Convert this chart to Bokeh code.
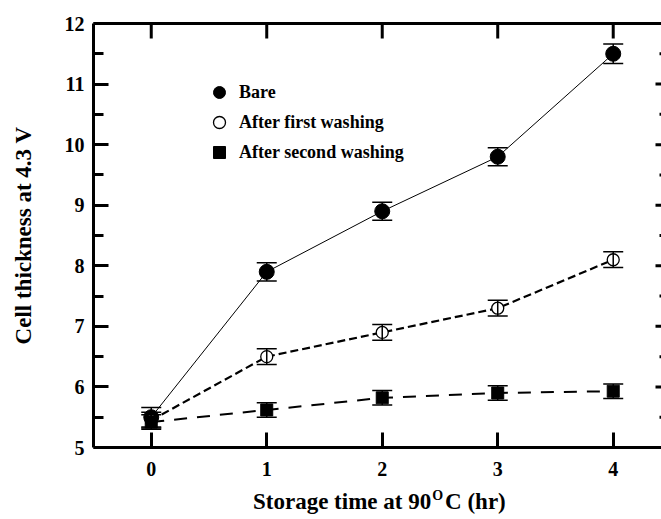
import math
from bokeh.plotting import figure
from bokeh.models import (ColumnDataSource, Whisker, TeeHead, LinearAxis, FixedTicker,
                          Range1d, Legend, LegendItem, Div)
from bokeh.layouts import column
from bokeh.embed import file_html
from bokeh.resources import INLINE

# ---- data ----
time_hr = [0, 1, 2, 3, 4]
bare = [5.5, 7.9, 8.9, 9.8, 11.5]
bare_err = [0.16, 0.15, 0.15, 0.15, 0.16]
first_wash = [5.45, 6.5, 6.9, 7.3, 8.1]
first_err = [0.13, 0.13, 0.13, 0.13, 0.13]
second_wash = [5.42, 5.62, 5.82, 5.9, 5.93]
second_err = [0.12, 0.12, 0.12, 0.12, 0.12]
x_ticks = [0, 1, 2, 3, 4]
y_ticks = [5, 6, 7, 8, 9, 10, 11, 12]
y_minor = [5.5, 6.5, 7.5, 8.5, 9.5, 10.5, 11.5]
series_names = ["Bare", "After first washing", "After second washing"]
y_title = "Cell thickness at 4.3 V"
x_title_parts = ["Storage time at 90", "O", "C (hr)"]

FONT = "Liberation Serif"
X_START, X_END = -0.5, 4.418
Y_START, Y_END = 5, 12

p = figure(width=661, height=487, x_range=Range1d(X_START, X_END), y_range=Range1d(Y_START, Y_END),
           min_border_left=93, min_border_right=0, min_border_top=23, min_border_bottom=40,
           outline_line_color=None, toolbar_location=None, output_backend="svg",
           background_fill_color="white", border_fill_color="white")
p.grid.visible = False

# bottom axis
xa = p.xaxis[0]
xa.ticker = FixedTicker(ticks=x_ticks)
# left axis
ya = p.yaxis[0]
ya.ticker = FixedTicker(ticks=y_ticks, minor_ticks=y_minor)
ya.axis_label = y_title
for ax in (xa, ya):
    ax.axis_line_width = 3
    ax.major_tick_line_width = 3
    ax.minor_tick_line_width = 3
    ax.major_tick_in = 15
    ax.major_tick_out = 0
    ax.minor_tick_in = 10
    ax.minor_tick_out = 0
    ax.major_label_text_font = FONT
    ax.major_label_text_font_style = "bold"
    ax.major_label_text_font_size = "20px"
    ax.major_label_text_color = "black"
    ax.axis_label_text_font = FONT
    ax.axis_label_text_font_style = "bold"
    ax.axis_label_text_font_size = "23px"
    ax.axis_label_text_color = "black"
ya.major_label_standoff = 9
ya.axis_label_standoff = 26
xa.major_label_standoff = 14

# top spine (no labels); its ticks are drawn as inward dashes below
top = LinearAxis(ticker=FixedTicker(ticks=[]), axis_line_width=3,
                 major_tick_in=0, major_tick_out=0, minor_tick_in=0, minor_tick_out=0)
p.add_layout(top, "above")

# top ticks (inward) and right-side ticks (right spine lies just outside the picture)
p.scatter(x=x_ticks, y=[Y_END] * len(x_ticks), marker="dash", angle=math.pi / 2, size=30,
          line_width=3, line_color="black")
p.scatter(x=[X_END] * len(y_ticks), y=y_ticks, marker="dash", size=12,
          line_width=3, line_color="black")
p.scatter(x=[X_END] * len(y_minor), y=y_minor, marker="dash", size=4,
          line_width=3, line_color="black")

# lines
p.line(time_hr, bare, line_color="black", line_width=1)
p.line(time_hr, first_wash, line_color="black", line_width=2.2, line_dash="8 4")
p.line(time_hr, second_wash, line_color="black", line_width=2, line_dash="13 10")

# markers
r_bare = p.scatter(time_hr, bare, marker="circle", size=15, fill_color="black", line_color="black")
r_first = p.scatter(time_hr, first_wash, marker="circle", size=12, fill_color="white",
                    line_color="black", line_width=1.3)
r_second = p.scatter(time_hr, second_wash, marker="square", size=12, fill_color="black",
                     line_color="black")

# error bars
for vals, errs in ((second_wash, second_err), (first_wash, first_err), (bare, bare_err)):
    src = ColumnDataSource(dict(x=time_hr,
                                upper=[v + e for v, e in zip(vals, errs)],
                                lower=[v - e for v, e in zip(vals, errs)]))
    w = Whisker(source=src, base="x", upper="upper", lower="lower", line_width=1.5,
                line_color="black", level="annotation",
                upper_head=TeeHead(size=20, line_width=1.5, line_color="black"),
                lower_head=TeeHead(size=20, line_width=1.5, line_color="black"))
    p.add_layout(w)

legend = Legend(items=[LegendItem(label=series_names[0], renderers=[r_bare]),
                       LegendItem(label=series_names[1], renderers=[r_first]),
                       LegendItem(label=series_names[2], renderers=[r_second])],
                location=(111, 280), glyph_width=30, glyph_height=30, label_height=30,
                spacing=0, padding=0, margin=0, label_standoff=5,
                border_line_color=None, background_fill_alpha=0,
                label_text_font=FONT, label_text_font_style="bold",
                label_text_font_size="18px", label_text_color="black")
p.add_layout(legend)

# x-axis title with superscript, as real text below the plot
x_title_html = (
    '<div style="padding-left:253px; padding-top:3px; white-space:nowrap;'
    ' font-family:\'Liberation Serif\'; font-weight:bold; font-size:23px; line-height:23px;'
    ' color:black;">'
    + x_title_parts[0]
    + '<span style="font-size:14px; position:relative; top:-9px; margin:0 2px 0 1px;">'
    + x_title_parts[1] + '</span>' + x_title_parts[2] + '</div>'
)
title_div = Div(text=x_title_html, width=661, height=32, margin=0)

layout = column(p, title_div, spacing=0)
open("out.html", "w").write(file_html(layout, INLINE))
